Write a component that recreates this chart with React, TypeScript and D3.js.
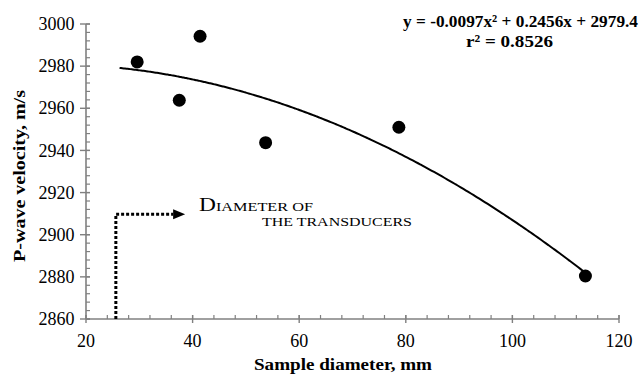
import React, { useEffect, useRef } from "react";
import * as d3 from "d3";

// measured points (sample diameter mm, P-wave velocity m/s)
const diameters = [29.6, 37.5, 41.4, 53.7, 78.7, 113.7];
const velocities = [2982, 2963.8, 2994.2, 2943.7, 2951, 2880.4];
// 2nd order polynomial trend shown on the chart: a*x^2 + b*x + c
const trendCoef = [-0.0097, 0.2456, 2979.4];
const trendRange = [26.3, 113.7];
const xTicks = [20, 40, 60, 80, 100, 120];
const yTicks = [2860, 2880, 2900, 2920, 2940, 2960, 2980, 3000];
// transducer diameter marker
const transducer = { x: 25.6, y: 2909.7, arrowTo: 38.6 };

const W = 641;
const H = 376;
const serif = "'Liberation Serif', 'Times New Roman', serif";

const App = () => {
  const svgRef = useRef<SVGSVGElement | null>(null);

  useEffect(() => {
    const svg = d3.select(svgRef.current);
    svg.selectAll("*").remove();

    const x = d3.scaleLinear().domain([20, 120]).range([86, 619]);
    const y = d3.scaleLinear().domain([2860, 3000]).range([319, 24]);
    const axisColor = "#808080";

    const ax = svg.append("g");
    // axis lines
    ax.append("line")
      .attr("x1", x(20)).attr("x2", x(120))
      .attr("y1", y(2860)).attr("y2", y(2860))
      .attr("stroke", axisColor).attr("stroke-width", 1.6);
    ax.append("line")
      .attr("x1", x(20)).attr("x2", x(20))
      .attr("y1", y(2860)).attr("y2", y(3000))
      .attr("stroke", axisColor).attr("stroke-width", 1.6);

    // minor ticks (5 per major interval)
    const xMinor = d3.range(20, 120.01, 4);
    ax.selectAll(".xminor").data(xMinor).enter().append("line")
      .attr("x1", (d) => x(d)).attr("x2", (d) => x(d))
      .attr("y1", y(2860) - 4).attr("y2", y(2860))
      .attr("stroke", axisColor).attr("stroke-width", 1.2);
    const yMinor = d3.range(2860, 3000.01, 4);
    ax.selectAll(".yminor").data(yMinor).enter().append("line")
      .attr("x1", x(20)).attr("x2", x(20) + 4)
      .attr("y1", (d) => y(d)).attr("y2", (d) => y(d))
      .attr("stroke", axisColor).attr("stroke-width", 1.2);

    // major ticks
    ax.selectAll(".xmajor").data(xTicks).enter().append("line")
      .attr("x1", (d) => x(d)).attr("x2", (d) => x(d))
      .attr("y1", y(2860) - 4).attr("y2", y(2860) + 4)
      .attr("stroke", axisColor).attr("stroke-width", 1.4);
    ax.selectAll(".ymajor").data(yTicks).enter().append("line")
      .attr("x1", x(20) - 6).attr("x2", x(20) + 4)
      .attr("y1", (d) => y(d)).attr("y2", (d) => y(d))
      .attr("stroke", axisColor).attr("stroke-width", 1.4);

    // tick labels
    ax.selectAll(".xlab").data(xTicks).enter().append("text")
      .attr("x", (d) => x(d)).attr("y", 346.5)
      .attr("text-anchor", "middle")
      .style("font-family", serif).style("font-size", "18px")
      .text((d) => d);
    ax.selectAll(".ylab").data(yTicks).enter().append("text")
      .attr("x", 74.5).attr("y", (d) => y(d))
      .attr("dy", "0.34em")
      .attr("text-anchor", "end")
      .style("font-family", serif).style("font-size", "18px")
      .text((d) => d);

    // axis titles
    svg.append("text")
      .attr("x", 254).attr("y", 370)
      .attr("textLength", 178).attr("lengthAdjust", "spacingAndGlyphs")
      .style("font-family", serif).style("font-size", "17px").style("font-weight", "bold")
      .text("Sample diameter, mm");
    svg.append("text")
      .attr("transform", `translate(25, 262) rotate(-90)`)
      .attr("textLength", 172).attr("lengthAdjust", "spacingAndGlyphs")
      .style("font-family", serif).style("font-size", "17px").style("font-weight", "bold")
      .text("P-wave velocity, m/s");

    // transducer marker
    const arrowStart = x(transducer.arrowTo) - 12;
    svg.append("path")
      .attr("d", `M${x(transducer.x)},${y(2860)} V${y(transducer.y)} H${arrowStart}`)
      .attr("fill", "none")
      .attr("stroke", "#000")
      .attr("stroke-width", 3)
      .attr("stroke-dasharray", "3,2");
    svg.append("path")
      .attr("d", `M${arrowStart},${y(transducer.y) - 5} L${x(transducer.arrowTo)},${y(transducer.y)} L${arrowStart},${y(transducer.y) + 5} Z`)
      .attr("fill", "#000");

    const note1 = svg.append("text")
      .attr("x", 199).attr("y", 210.5)
      .attr("textLength", 114).attr("lengthAdjust", "spacingAndGlyphs")
      .style("font-family", serif).style("font-size", "12.5px");
    note1.append("tspan").style("font-size", "18px").text("D");
    note1.append("tspan").text("IAMETER OF");
    svg.append("text")
      .attr("x", 262).attr("y", 225.5)
      .attr("textLength", 150).attr("lengthAdjust", "spacingAndGlyphs")
      .style("font-family", serif).style("font-size", "12.5px")
      .text("THE TRANSDUCERS");

    // trend line
    const [a, b, c] = trendCoef;
    const xs = d3.range(trendRange[0], trendRange[1] + 0.01, 0.5);
    const line = d3.line<number>()
      .x((d) => x(d))
      .y((d) => y(a * d * d + b * d + c))
      .curve(d3.curveMonotoneX);
    svg.append("path")
      .datum(xs)
      .attr("d", line)
      .attr("fill", "none")
      .attr("stroke", "#000")
      .attr("stroke-width", 2);

    // points
    svg.selectAll(".pt").data(diameters).enter().append("circle")
      .attr("cx", (d) => x(d))
      .attr("cy", (d, i) => y(velocities[i]))
      .attr("r", 6.5)
      .attr("fill", "#000");

    // equation
    svg.append("text")
      .attr("x", 403).attr("y", 26.5)
      .attr("textLength", 235).attr("lengthAdjust", "spacingAndGlyphs")
      .style("font-family", serif).style("font-size", "17px").style("font-weight", "bold")
      .text("y = -0.0097x² + 0.2456x + 2979.4");
    svg.append("text")
      .attr("x", 466).attr("y", 46.5)
      .attr("textLength", 87).attr("lengthAdjust", "spacingAndGlyphs")
      .style("font-family", serif).style("font-size", "17px").style("font-weight", "bold")
      .text("r² = 0.8526");
  }, []);

  return (
    <div style={{ position: "absolute", left: 0, top: 0 }}>
      <svg ref={svgRef} width={W} height={H} style={{ display: "block", background: "#fff" }} />
    </div>
  );
};

export default App;
